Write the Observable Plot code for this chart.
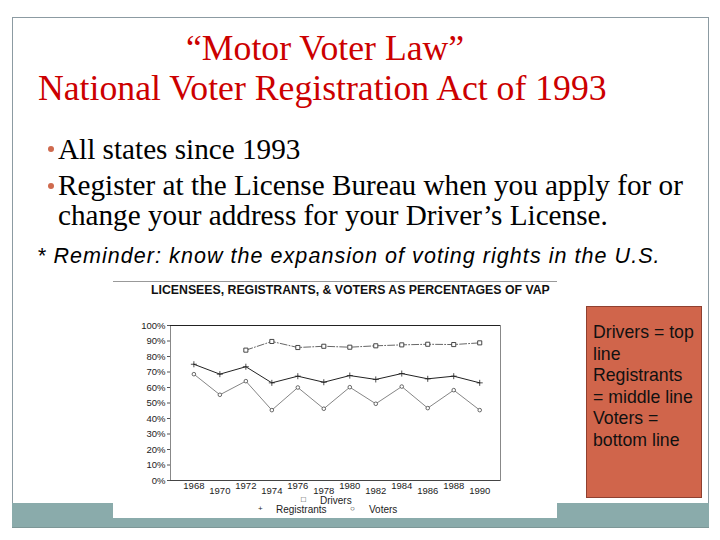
<!DOCTYPE html>
<html><head><meta charset="utf-8">
<script src="https://cdn.jsdelivr.net/npm/d3@7"></script>
<script src="https://cdn.jsdelivr.net/npm/@observablehq/plot@0.6"></script>
<style>
body{margin:0;width:720px;height:540px;position:relative;background:#fff;overflow:hidden;font-family:"Liberation Serif",serif}
.abs{position:absolute;white-space:nowrap}
.t1{font-family:"Liberation Serif",serif;font-size:35.7px;line-height:40px;color:#cc0000}
.b{font-family:"Liberation Serif",serif;font-size:29.2px;line-height:34px;color:#000}
.dot{position:absolute;width:6px;height:6px;border-radius:50%;background:#cf6a4e}
.lg{font-family:"Liberation Sans",Arial,sans-serif;font-size:10px;line-height:12px;color:#222}
</style></head><body>
<div class="abs" style="left:12px;top:17px;width:697px;height:511px;border:1px solid #8c9ba2;box-sizing:border-box"></div>
<div class="abs" style="left:12px;top:503px;width:697px;height:25px;background:#8aabab;border-bottom:1px solid #7d9797;box-sizing:border-box"></div>

<div class="abs t1" style="left:186px;top:28px">“Motor Voter Law”</div>
<div class="abs t1" style="left:38px;top:68px">National Voter Registration Act of 1993</div>

<div class="dot" style="left:48px;top:146px"></div>
<div class="abs b" style="left:58px;top:132px">All states since 1993</div>
<div class="dot" style="left:48px;top:183px"></div>
<div class="abs b" style="left:58px;top:168px">Register at the License Bureau when you apply for or</div>
<div class="abs b" style="left:58px;top:198px">change your address for your Driver’s License.</div>
<div class="abs" style="left:37px;top:243px;font-family:'Liberation Sans',Arial,sans-serif;font-style:italic;font-size:21.5px;letter-spacing:1.05px;line-height:26px;color:#000">* Reminder: know the expansion of voting rights in the U.S.</div>

<div class="abs" style="left:113px;top:277px;width:444px;height:241px;background:#fff"></div>
<div class="abs" style="left:113px;top:281px;width:444px;height:1px;background:#999"></div>
<div class="abs" id="ctitle" style="left:151px;top:283px;font-family:'Liberation Sans',Arial,sans-serif;font-weight:bold;font-size:12.3px;line-height:14px;color:#111"></div>
<div class="abs" id="chart" style="left:113px;top:295px"></div>

<div class="abs" style="left:586px;top:306px;width:116px;height:192px;background:#d0654b;border:1px solid #8f4030;box-sizing:border-box"></div>
<div class="abs" id="boxtext" style="left:593px;top:322px;font-family:'Liberation Sans',Arial,sans-serif;font-size:17.7px;line-height:21.6px;color:#111"></div>

<script>
const chartTitle = "LICENSEES, REGISTRANTS, & VOTERS AS PERCENTAGES OF VAP";
const years = [1968, 1970, 1972, 1974, 1976, 1978, 1980, 1982, 1984, 1986, 1988, 1990];
const drivers = [null, null, 84.1, 89.7, 85.8, 86.6, 86.0, 86.9, 87.5, 87.9, 87.7, 88.8];
const registrants = [75.0, 68.6, 73.4, 63.0, 67.3, 63.4, 67.7, 65.2, 69.0, 65.6, 67.3, 63.0];
const voters = [68.6, 55.3, 64.1, 45.4, 60.0, 46.3, 60.2, 49.5, 60.6, 46.7, 58.3, 45.4];
const yTicks = [0, 10, 20, 30, 40, 50, 60, 70, 80, 90, 100];
const seriesNames = ["Drivers", "Registrants", "Voters"];
const boxLines = ["Drivers = top", "line", "Registrants", "= middle line", "Voters =", "bottom line"];

document.getElementById("ctitle").textContent = chartTitle;
document.getElementById("boxtext").innerHTML = boxLines.join("<br>");

const toRows = (vals, name) => years.map((yr, i) => ({year: yr, value: vals[i], series: name})).filter(d => d.value != null);
const dRows = toRows(drivers, seriesNames[0]);
const rRows = toRows(registrants, seriesNames[1]);
const vRows = toRows(voters, seriesNames[2]);
const evenYears = years.filter((_, i) => i % 2 === 0);
const oddYears = years.filter((_, i) => i % 2 === 1);

const font = "'Liberation Sans', Arial, sans-serif";
const chart = Plot.plot({
  width: 444, height: 223,
  marginLeft: 57, marginRight: 57, marginTop: 30, marginBottom: 38,
  style: {fontFamily: font, background: "transparent", color: "#222"},
  x: {domain: [1966.2, 1991.6], axis: null},
  y: {domain: [0, 100], axis: null},
  marks: [
    Plot.frame({stroke: "#888", strokeWidth: 1}),
    Plot.ruleY([100], {stroke: "#222", strokeWidth: 1.2}),
    Plot.ruleY([0], {stroke: "#444", strokeWidth: 1}),
    Plot.axisY({ticks: yTicks, tickFormat: d => d + "%", tickSize: 3, tickPadding: 2, fontSize: 9.5, label: null, stroke: "#555"}),
    Plot.line(dRows, {x: "year", y: "value", stroke: "#555", strokeWidth: 0.9, strokeDasharray: "7,2,1,2"}),
    Plot.line(rRows, {x: "year", y: "value", stroke: "#222", strokeWidth: 1}),
    Plot.line(vRows, {x: "year", y: "value", stroke: "#666", strokeWidth: 0.8}),
    Plot.dot(dRows, {x: "year", y: "value", symbol: "square", r: 2.3, stroke: "#333", fill: "#fff", strokeWidth: 0.9}),
    Plot.dot(rRows, {x: "year", y: "value", symbol: "plus", r: 2.1, stroke: "#222", strokeWidth: 0.8}),
    Plot.dot(vRows, {x: "year", y: "value", symbol: "circle", r: 1.8, stroke: "#444", fill: "#fff", strokeWidth: 0.8}),
    Plot.text(evenYears, {x: d => d, frameAnchor: "bottom", dy: 8, text: d => String(d), fontSize: 9.5, fill: "#222"}),
    Plot.text(oddYears, {x: d => d, frameAnchor: "bottom", dy: 13, text: d => String(d), fontSize: 9.5, fill: "#222"})
  ]
});
document.getElementById("chart").appendChild(chart);

const legendItems = [
  {sym: "□", sx: 301, name: seriesNames[0], tx: 320, top: 495},
  {sym: "+", sx: 258, name: seriesNames[1], tx: 276, top: 504},
  {sym: "○", sx: 350, name: seriesNames[2], tx: 369, top: 504}
];
legendItems.forEach(it => {
  const s = document.createElement("div");
  s.className = "abs lg"; s.style.left = it.sx + "px"; s.style.top = (it.top - 1) + "px"; s.style.fontSize = "8px"; s.textContent = it.sym;
  const t = document.createElement("div");
  t.className = "abs lg"; t.style.left = it.tx + "px"; t.style.top = it.top + "px"; t.textContent = it.name;
  document.body.appendChild(s); document.body.appendChild(t);
});
</script>
</body></html>
